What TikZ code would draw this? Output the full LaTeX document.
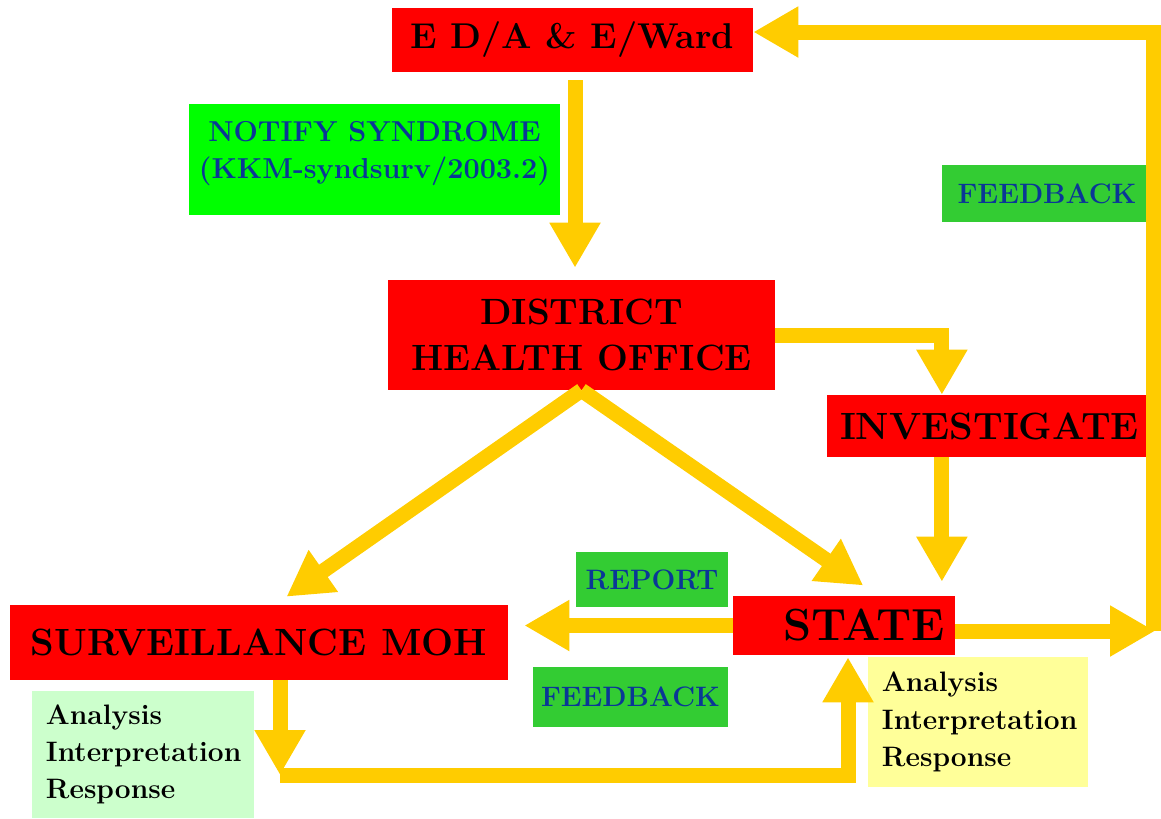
\documentclass[tikz,border=0pt]{standalone}
\usetikzlibrary{arrows.meta}
\definecolor{boxred}{RGB}{255,0,0}
\definecolor{flowyellow}{RGB}{255,204,0}
\definecolor{limegreen}{RGB}{0,255,0}
\definecolor{taggreen}{RGB}{51,204,51}
\definecolor{tagblue}{RGB}{10,55,150}
\definecolor{palegreen}{RGB}{204,255,204}
\definecolor{paleyellow}{RGB}{255,255,153}
\tikzset{office/.style = {fill=boxred, inner sep=0pt, align=center, font=\fontsize{27}{34}\selectfont\bfseries}}
\tikzset{tag/.style = {fill=taggreen, text=tagblue, inner sep=0pt, font=\fontsize{20}{25}\selectfont\bfseries}}
\tikzset{notes/.style = {inner xsep=0.35cm, inner ysep=0pt, align=left, font=\fontsize{20}{26.5}\selectfont\bfseries}}
\tikzset{flow/.style = {draw=flowyellow, line width=0.375cm, -{Triangle[length=1.125cm, width=1.2cm]}}}

\begin{document}
\begin{tikzpicture}[x=0.025cm, y=-0.025cm]
  \useasboundingbox (0,0) rectangle (1161,818);
  % offices
  \node [office, minimum width=9.025cm, minimum height=1.6cm, font=\fontsize{25.5}{30}\selectfont\bfseries] (eda) at (572.5,40) {E D/A \& E/Ward};
  \node [office, minimum width=9.675cm, minimum height=2.75cm, font=\fontsize{26}{33}\selectfont\bfseries] (dho) at (581.5,335) {DISTRICT\\HEALTH OFFICE};
  \node [office, minimum width=8.125cm, minimum height=1.55cm] (inv) at (989.5,426) {INVESTIGATE};
  \node [office, minimum width=5.55cm, minimum height=1.475cm, font=\fontsize{32}{38}\selectfont\bfseries] (state) at (844,625.5) {\hspace{1cm}STATE};
  \node [office, minimum width=12.45cm, minimum height=1.875cm] (surv) at (259,642.5) {SURVEILLANCE MOH};
  % labels
  \node [tag, fill=limegreen, minimum width=9.275cm, minimum height=2.775cm, align=center, font=\fontsize{20.5}{26}\selectfont\bfseries] (notify) at (374.5,159.5) {NOTIFY SYNDROME\\(KKM-syndsurv/2003.2)\\[-0.6em]\mbox{}};
  \node [tag, minimum width=5.25cm, minimum height=1.425cm] (fbtop) at (1047,193.5) {FEEDBACK};
  \node [tag, minimum width=3.8cm, minimum height=1.375cm] (report) at (652,579.5) {REPORT};
  \node [tag, minimum width=4.875cm, minimum height=1.5cm] (fbmid) at (630.5,697) {FEEDBACK};
  \node [notes, fill=palegreen, text width=4.85cm, minimum height=3.175cm] (airL) at (143,754.5) {Analysis\\Interpretation\\Response};
  \node [notes, fill=paleyellow, text width=4.8cm, minimum height=3.25cm] (airR) at (978,722) {Analysis\\Interpretation\\Response};
  % connectors
  \coordinate (lowL) at (280,775);
  \coordinate (lowR) at (848,775);
  \coordinate (fbR) at (1153,631);
  \draw [flow, shorten <=0.2cm, shorten >=0.3cm] (eda.south -| 575,0) -- (dho.north -| 575,0);
  \draw [flow] (dho.east) -| ([xshift=-1.19cm]inv.north);
  \draw [flow, shorten >=0.35cm] ([xshift=-1.19cm]inv.south) -- ([xshift=-1.19cm]inv.south |- state.north);
  \draw [flow, shorten >=0.35cm] (dho.south) -- ([xshift=0.4cm]surv.north);
  \draw [flow, shorten >=0.45cm] (dho.south) -- ([xshift=0.85cm]state.north);
  \draw [flow, shorten >=0.4cm] (state.west) -- (state.west -| surv.east);
  \draw [flow] (surv.south -| lowL) -- (lowL);
  \draw [flow, shorten >=0.05cm] (lowL) -- (lowR) -- (lowR |- state.south);
  \draw [flow] (state.east |- fbR) -- ([xshift=0.05cm]fbR);
  \draw [flow] (fbR) |- ([yshift=0.2cm]eda.east);
\end{tikzpicture}
\end{document}
